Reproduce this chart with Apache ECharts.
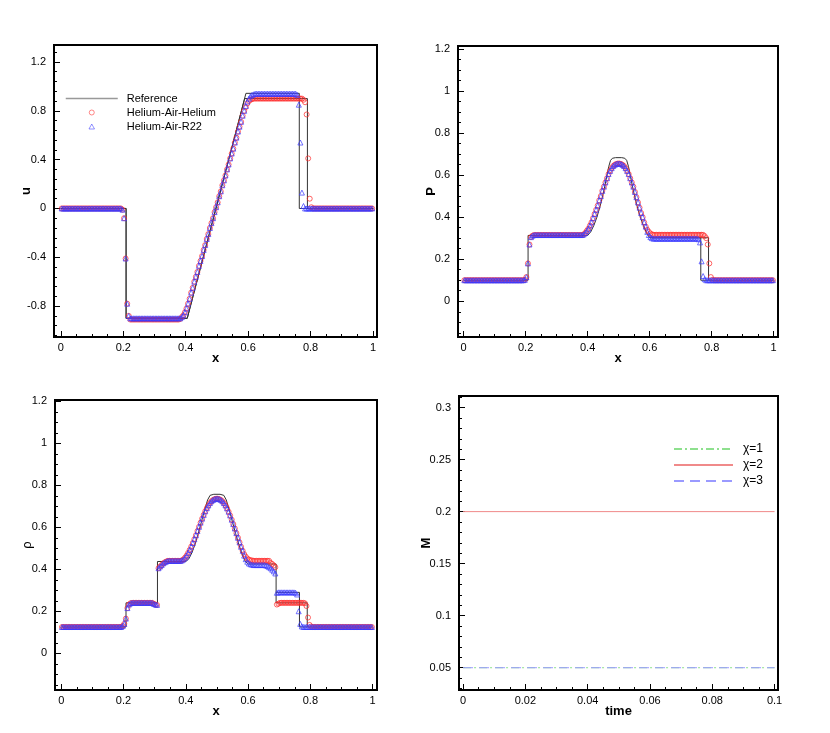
<!DOCTYPE html>
<html>
<head>
<meta charset="utf-8">
<script src="https://cdn.jsdelivr.net/npm/echarts@6/dist/echarts.min.js"></script>
<style>
  html, body { margin: 0; padding: 0; background: #fff; }
  #main { width: 830px; height: 733px; }
</style>
</head>
<body>
<div id="main"></div>
<script>
// cell centres of the 200-cell mesh
const xs = [
  0.0025,0.0075,0.0125,0.0175,0.0225,0.0275,0.0325,0.0375,0.0425,0.0475,
  0.0525,0.0575,0.0625,0.0675,0.0725,0.0775,0.0825,0.0875,0.0925,0.0975,
  0.1025,0.1075,0.1125,0.1175,0.1225,0.1275,0.1325,0.1375,0.1425,0.1475,
  0.1525,0.1575,0.1625,0.1675,0.1725,0.1775,0.1825,0.1875,0.1925,0.1975,
  0.2025,0.2075,0.2125,0.2175,0.2225,0.2275,0.2325,0.2375,0.2425,0.2475,
  0.2525,0.2575,0.2625,0.2675,0.2725,0.2775,0.2825,0.2875,0.2925,0.2975,
  0.3025,0.3075,0.3125,0.3175,0.3225,0.3275,0.3325,0.3375,0.3425,0.3475,
  0.3525,0.3575,0.3625,0.3675,0.3725,0.3775,0.3825,0.3875,0.3925,0.3975,
  0.4025,0.4075,0.4125,0.4175,0.4225,0.4275,0.4325,0.4375,0.4425,0.4475,
  0.4525,0.4575,0.4625,0.4675,0.4725,0.4775,0.4825,0.4875,0.4925,0.4975,
  0.5025,0.5075,0.5125,0.5175,0.5225,0.5275,0.5325,0.5375,0.5425,0.5475,
  0.5525,0.5575,0.5625,0.5675,0.5725,0.5775,0.5825,0.5875,0.5925,0.5975,
  0.6025,0.6075,0.6125,0.6175,0.6225,0.6275,0.6325,0.6375,0.6425,0.6475,
  0.6525,0.6575,0.6625,0.6675,0.6725,0.6775,0.6825,0.6875,0.6925,0.6975,
  0.7025,0.7075,0.7125,0.7175,0.7225,0.7275,0.7325,0.7375,0.7425,0.7475,
  0.7525,0.7575,0.7625,0.7675,0.7725,0.7775,0.7825,0.7875,0.7925,0.7975,
  0.8025,0.8075,0.8125,0.8175,0.8225,0.8275,0.8325,0.8375,0.8425,0.8475,
  0.8525,0.8575,0.8625,0.8675,0.8725,0.8775,0.8825,0.8875,0.8925,0.8975,
  0.9025,0.9075,0.9125,0.9175,0.9225,0.9275,0.9325,0.9375,0.9425,0.9475,
  0.9525,0.9575,0.9625,0.9675,0.9725,0.9775,0.9825,0.9875,0.9925,0.9975
];

// velocity u
const uHe = [
  0,0,0,0,0,0,0,0,0,0, 0,0,0,0,0,0,0,0,0,0, 0,0,0,0,0,0,0,0,0,0,
  0,0,0,0,0,0,0,0,0,-0.01,
  -0.08,-0.41,-0.78,-0.88,-0.91,-0.91,-0.91,-0.91,-0.91,-0.91,
  -0.91,-0.91,-0.91,-0.91,-0.91,-0.91,-0.91,-0.91,-0.91,-0.91,
  -0.91,-0.91,-0.91,-0.91,-0.91,-0.91,-0.91,-0.91,-0.91,-0.91,
  -0.91,-0.91,-0.91,-0.91,-0.91,-0.91,-0.905,-0.89,-0.875,-0.85,
  -0.82,-0.78,-0.74,-0.69,-0.65,-0.6,-0.56,-0.52,-0.47,-0.43,
  -0.39,-0.34,-0.3,-0.25,-0.21,-0.16,-0.12,-0.08,-0.03,0.01,
  0.05,0.1,0.14,0.19,0.23,0.27,0.32,0.36,0.41,0.45,
  0.49,0.54,0.58,0.63,0.67,0.71,0.76,0.8,0.83,0.86,
  0.88,0.89,0.895,0.9,0.9,0.9,0.9,0.9,0.9,0.9,
  0.9,0.9,0.9,0.9,0.9,0.9,0.9,0.9,0.9,0.9,
  0.9,0.9,0.9,0.9,0.9,0.9,0.9,0.9,0.9,0.9,
  0.9,0.9,0.9,0.9,0.9,0.89,0.87,0.77,0.41,0.08,
  0.01,0,0,0,0,0,0,0,0,0, 0,0,0,0,0,0,0,0,0,0,
  0,0,0,0,0,0,0,0,0,0, 0,0,0,0,0,0,0,0,0,0
];
const uR22 = [
  0,0,0,0,0,0,0,0,0,0, 0,0,0,0,0,0,0,0,0,0, 0,0,0,0,0,0,0,0,0,0,
  0,0,0,0,0,0,0,0,0,-0.01,
  -0.08,-0.41,-0.78,-0.88,-0.9,-0.9,-0.9,-0.9,-0.9,-0.9,
  -0.9,-0.9,-0.9,-0.9,-0.9,-0.9,-0.9,-0.9,-0.9,-0.9,
  -0.9,-0.9,-0.9,-0.9,-0.9,-0.9,-0.9,-0.9,-0.9,-0.9,
  -0.9,-0.9,-0.9,-0.9,-0.9,-0.9,-0.9,-0.89,-0.875,-0.85,
  -0.82,-0.78,-0.74,-0.69,-0.65,-0.6,-0.56,-0.52,-0.47,-0.43,
  -0.39,-0.34,-0.3,-0.25,-0.21,-0.16,-0.12,-0.08,-0.03,0.01,
  0.05,0.1,0.14,0.19,0.23,0.27,0.32,0.36,0.41,0.45,
  0.49,0.54,0.58,0.63,0.67,0.71,0.76,0.8,0.84,0.875,
  0.9,0.92,0.93,0.935,0.94,0.94,0.94,0.94,0.94,0.94,
  0.94,0.94,0.94,0.94,0.94,0.94,0.94,0.94,0.94,0.94,
  0.94,0.94,0.94,0.94,0.94,0.94,0.94,0.94,0.94,0.94,
  0.94,0.93,0.85,0.54,0.13,0.02,0,0,0,0,
  0,0,0,0,0,0,0,0,0,0, 0,0,0,0,0,0,0,0,0,0,
  0,0,0,0,0,0,0,0,0,0, 0,0,0,0,0,0,0,0,0,0
];

// pressure P
const pHe = [
  0.1,0.1,0.1,0.1,0.1,0.1,0.1,0.1,0.1,0.1, 0.1,0.1,0.1,0.1,0.1,0.1,0.1,0.1,0.1,0.1,
  0.1,0.1,0.1,0.1,0.1,0.1,0.1,0.1,0.1,0.1, 0.1,0.1,0.1,0.1,0.1,0.1,0.1,0.1,0.1,0.102,
  0.115,0.18,0.27,0.305,0.312,0.315,0.315,0.315,0.315,0.315,
  0.315,0.315,0.315,0.315,0.315,0.315,0.315,0.315,0.315,0.315,
  0.315,0.315,0.315,0.315,0.315,0.315,0.315,0.315,0.315,0.315,
  0.315,0.315,0.315,0.315,0.315,0.315,0.315,0.318,0.325,0.335,
  0.345,0.36,0.375,0.395,0.415,0.435,0.455,0.48,0.5,0.525,
  0.545,0.565,0.585,0.605,0.62,0.633,0.643,0.649,0.653,0.655,
  0.655,0.653,0.649,0.643,0.633,0.62,0.605,0.585,0.565,0.545,
  0.52,0.495,0.47,0.445,0.42,0.4,0.375,0.355,0.34,0.33,
  0.322,0.318,0.316,0.316,0.316,0.316,0.316,0.316,0.316,0.316,
  0.316,0.316,0.316,0.316,0.316,0.316,0.316,0.316,0.316,0.316,
  0.316,0.316,0.316,0.316,0.316,0.316,0.316,0.316,0.316,0.316,
  0.316,0.316,0.316,0.316,0.316,0.31,0.3,0.27,0.18,0.115,
  0.102,0.1,0.1,0.1,0.1,0.1,0.1,0.1,0.1,0.1, 0.1,0.1,0.1,0.1,0.1,0.1,0.1,0.1,0.1,0.1,
  0.1,0.1,0.1,0.1,0.1,0.1,0.1,0.1,0.1,0.1, 0.1,0.1,0.1,0.1,0.1,0.1,0.1,0.1,0.1,0.1
];
const pR22 = [
  0.1,0.1,0.1,0.1,0.1,0.1,0.1,0.1,0.1,0.1, 0.1,0.1,0.1,0.1,0.1,0.1,0.1,0.1,0.1,0.1,
  0.1,0.1,0.1,0.1,0.1,0.1,0.1,0.1,0.1,0.1, 0.1,0.1,0.1,0.1,0.1,0.1,0.1,0.1,0.1,0.102,
  0.115,0.18,0.27,0.305,0.312,0.315,0.315,0.315,0.315,0.315,
  0.315,0.315,0.315,0.315,0.315,0.315,0.315,0.315,0.315,0.315,
  0.315,0.315,0.315,0.315,0.315,0.315,0.315,0.315,0.315,0.315,
  0.315,0.315,0.315,0.315,0.315,0.315,0.315,0.318,0.325,0.335,
  0.345,0.36,0.375,0.395,0.415,0.435,0.455,0.48,0.5,0.525,
  0.545,0.565,0.585,0.605,0.62,0.633,0.643,0.649,0.653,0.655,
  0.655,0.653,0.649,0.643,0.633,0.62,0.605,0.585,0.565,0.545,
  0.52,0.495,0.47,0.445,0.42,0.4,0.375,0.355,0.33,0.315,
  0.305,0.3,0.298,0.298,0.298,0.298,0.298,0.298,0.298,0.298,
  0.298,0.298,0.298,0.298,0.298,0.298,0.298,0.298,0.298,0.298,
  0.298,0.298,0.298,0.298,0.298,0.298,0.298,0.298,0.298,0.298,
  0.298,0.295,0.28,0.19,0.12,0.105,0.1,0.1,0.1,0.1,
  0.1,0.1,0.1,0.1,0.1,0.1,0.1,0.1,0.1,0.1, 0.1,0.1,0.1,0.1,0.1,0.1,0.1,0.1,0.1,0.1,
  0.1,0.1,0.1,0.1,0.1,0.1,0.1,0.1,0.1,0.1, 0.1,0.1,0.1,0.1,0.1,0.1,0.1,0.1,0.1,0.1
];

// density rho
const rHe = [
  0.125,0.125,0.125,0.125,0.125,0.125,0.125,0.125,0.125,0.125,
  0.125,0.125,0.125,0.125,0.125,0.125,0.125,0.125,0.125,0.125,
  0.125,0.125,0.125,0.125,0.125,0.125,0.125,0.125,0.125,0.125,
  0.125,0.125,0.125,0.125,0.125,0.125,0.125,0.125,0.125,0.13,
  0.14,0.165,0.215,0.232,0.238,0.24,0.24,0.24,0.24,0.24,
  0.24,0.24,0.24,0.24,0.24,0.24,0.24,0.24,0.24,0.235,
  0.232,0.23,0.405,0.413,0.42,0.428,0.433,0.437,0.44,0.44,
  0.44,0.44,0.44,0.44,0.44,0.44,0.44,0.442,0.447,0.455,
  0.465,0.478,0.492,0.508,0.525,0.543,0.562,0.582,0.602,0.622,
  0.641,0.659,0.676,0.691,0.704,0.715,0.724,0.73,0.734,0.736,
  0.736,0.734,0.73,0.724,0.715,0.704,0.69,0.674,0.656,0.636,
  0.615,0.594,0.572,0.55,0.528,0.507,0.488,0.472,0.46,0.451,
  0.446,0.443,0.442,0.44,0.44,0.44,0.44,0.44,0.44,0.44,
  0.44,0.44,0.44,0.44,0.43,0.425,0.418,0.41,0.232,0.236,
  0.24,0.24,0.24,0.24,0.24,0.24,0.24,0.24,0.24,0.24,
  0.24,0.24,0.24,0.24,0.24,0.24,0.238,0.225,0.17,0.135,
  0.127,0.125,0.125,0.125,0.125,0.125,0.125,0.125,0.125,0.125,
  0.125,0.125,0.125,0.125,0.125,0.125,0.125,0.125,0.125,0.125,
  0.125,0.125,0.125,0.125,0.125,0.125,0.125,0.125,0.125,0.125,
  0.125,0.125,0.125,0.125,0.125,0.125,0.125,0.125,0.125,0.125
];
const rR22 = [
  0.125,0.125,0.125,0.125,0.125,0.125,0.125,0.125,0.125,0.125,
  0.125,0.125,0.125,0.125,0.125,0.125,0.125,0.125,0.125,0.125,
  0.125,0.125,0.125,0.125,0.125,0.125,0.125,0.125,0.125,0.125,
  0.125,0.125,0.125,0.125,0.125,0.125,0.125,0.125,0.125,0.13,
  0.14,0.165,0.215,0.232,0.238,0.24,0.24,0.24,0.24,0.24,
  0.24,0.24,0.24,0.24,0.24,0.24,0.24,0.24,0.24,0.235,
  0.232,0.23,0.405,0.413,0.42,0.428,0.433,0.437,0.44,0.44,
  0.44,0.44,0.44,0.44,0.44,0.44,0.44,0.442,0.447,0.455,
  0.465,0.478,0.492,0.508,0.525,0.543,0.562,0.582,0.602,0.622,
  0.641,0.659,0.676,0.691,0.704,0.715,0.724,0.73,0.734,0.736,
  0.736,0.734,0.73,0.724,0.715,0.704,0.69,0.674,0.656,0.636,
  0.615,0.594,0.572,0.55,0.528,0.507,0.488,0.465,0.448,0.436,
  0.428,0.424,0.422,0.42,0.42,0.42,0.42,0.42,0.42,0.42,
  0.42,0.418,0.415,0.41,0.405,0.398,0.39,0.38,0.288,0.29,
  0.29,0.29,0.29,0.29,0.29,0.29,0.29,0.29,0.29,0.29,
  0.288,0.28,0.2,0.14,0.128,0.125,0.125,0.125,0.125,0.125,
  0.125,0.125,0.125,0.125,0.125,0.125,0.125,0.125,0.125,0.125,
  0.125,0.125,0.125,0.125,0.125,0.125,0.125,0.125,0.125,0.125,
  0.125,0.125,0.125,0.125,0.125,0.125,0.125,0.125,0.125,0.125,
  0.125,0.125,0.125,0.125,0.125,0.125,0.125,0.125,0.125,0.125
];

// exact (reference) solutions, polyline vertices [x, value]
const refUHe  = [[0,0],[0.209,0],[0.209,-0.9],[0.405,-0.9],[0.589,0.9],[0.79,0.9],[0.79,0],[1,0]];
const refUR22 = [[0,0],[0.209,0],[0.209,-0.9],[0.405,-0.9],[0.593,0.943],[0.764,0.943],[0.764,0],[1,0]];
const refPHe  = [[0,0.1],[0.208,0.1],[0.208,0.313],[0.4,0.313],[0.41,0.33],[0.42,0.36],[0.43,0.4],[0.44,0.45],[0.45,0.51],
  [0.46,0.58],[0.468,0.64],[0.474,0.67],[0.48,0.68],[0.49,0.683],[0.51,0.683],[0.52,0.68],[0.526,0.67],[0.532,0.64],
  [0.54,0.58],[0.55,0.51],[0.56,0.45],[0.57,0.4],[0.58,0.36],[0.59,0.325],[0.6,0.302],[0.79,0.302],[0.79,0.1],[1,0.1]];
const refPR22 = [[0.6,0.302],[0.765,0.302],[0.765,0.1],[0.79,0.1]];
const refRHe  = [[0,0.125],[0.208,0.125],[0.208,0.24],[0.309,0.24],[0.309,0.437],[0.4,0.437],[0.41,0.45],[0.42,0.48],
  [0.43,0.52],[0.44,0.57],[0.45,0.625],[0.46,0.68],[0.47,0.73],[0.478,0.752],[0.49,0.757],[0.51,0.757],[0.522,0.752],
  [0.53,0.73],[0.54,0.68],[0.55,0.625],[0.56,0.57],[0.57,0.52],[0.58,0.475],[0.59,0.44],[0.6,0.425],[0.69,0.425],
  [0.69,0.24],[0.79,0.24],[0.79,0.125],[1,0.125]];
const refRR22 = [[0.69,0.29],[0.765,0.29],[0.765,0.125],[0.79,0.125]];

// Mach number history
const tVals = [0, 0.1];
const mChi1 = [0.05, 0.05];
const mChi2 = [0.2, 0.2];
const mChi3 = [0.05, 0.05];

// tick labels
const xTicks = [0, 0.2, 0.4, 0.6, 0.8, 1];
const uTicks = [-0.8, -0.4, 0, 0.4, 0.8, 1.2];
const pTicks = [0, 0.2, 0.4, 0.6, 0.8, 1, 1.2];
const tTicks = [0, 0.02, 0.04, 0.06, 0.08, 0.1];
const mTicks = [0.05, 0.1, 0.15, 0.2, 0.25, 0.3];

const FONT = 'Liberation Sans';

function steps(a, b, step) {
  let out = [];
  let n = Math.round((b - a) / step);
  for (let k = 0; k <= n; k++) out.push(+(a + k * step).toFixed(5));
  return out;
}

function pairs(vals) {
  return xs.map(function (x, i) { return [x, vals[i]]; });
}

let xAxes = [];
let yAxes = [];

// major axis with labels + a second one carrying only the minor ticks
function addAxes(gi, xr, yr, xMaj, xMin, yMaj, yMin, xName, yName, yBold, yGap) {
  let lbl = { fontSize: 11, color: '#000', fontFamily: FONT,
    formatter: function (v) { return String(+(+v).toFixed(4)); } };
  let noLine = { show: false, onZero: false };
  xAxes.push({
    type: 'value', gridIndex: gi, min: xr[0], max: xr[1], position: 'bottom',
    axisLine: noLine, splitLine: { show: false },
    axisTick: { inside: true, length: 6, customValues: xMaj, lineStyle: { color: '#000' } },
    axisLabel: Object.assign({ customValues: xMaj, margin: 5 }, lbl),
    name: xName, nameLocation: 'middle', nameGap: 15, nameMoveOverlap: false,
    nameTextStyle: { fontWeight: 'bold', fontSize: 13, color: '#000', fontFamily: FONT }
  });
  xAxes.push({
    type: 'value', gridIndex: gi, min: xr[0], max: xr[1], position: 'bottom',
    axisLine: noLine, splitLine: { show: false }, axisLabel: { show: false },
    axisTick: { inside: true, length: 3, customValues: xMin, lineStyle: { color: '#000' } }
  });
  yAxes.push({
    type: 'value', gridIndex: gi, min: yr[0], max: yr[1], position: 'left',
    axisLine: noLine, splitLine: { show: false },
    axisTick: { inside: true, length: 6, customValues: yMaj, lineStyle: { color: '#000' } },
    axisLabel: Object.assign({ customValues: yMaj, margin: 8 }, lbl),
    name: yName, nameLocation: 'middle', nameGap: yGap, nameRotate: 90, nameMoveOverlap: false,
    nameTextStyle: { fontWeight: yBold ? 'bold' : 'normal', fontSize: 13, color: '#000', fontFamily: FONT }
  });
  yAxes.push({
    type: 'value', gridIndex: gi, min: yr[0], max: yr[1], position: 'left',
    axisLine: noLine, splitLine: { show: false }, axisLabel: { show: false },
    axisTick: { inside: true, length: 3, customValues: yMin, lineStyle: { color: '#000' } }
  });
}

const xMinor = steps(0, 1, 0.05);
addAxes(0, [-0.022, 1.013], [-1.053, 1.339], xTicks, xMinor, uTicks, steps(-1.04, 1.28, 0.08), 'x', 'u', true, 21);
addAxes(1, [-0.018, 1.014], [-0.17, 1.214], xTicks, xMinor, pTicks, steps(-0.15, 1.2, 0.05), 'x', 'P', true, 20);
addAxes(2, [-0.02, 1.014], [-0.175, 1.206], xTicks, xMinor, pTicks, steps(-0.15, 1.2, 0.05), 'x', 'ρ', false, 21);
addAxes(3, [-0.0013, 0.1011], [0.0286, 0.3111], tTicks, steps(0, 0.1, 0.005), mTicks, steps(0.03, 0.31, 0.01), 'time', 'M', true, 26);

function refLine(gi, pts) {
  return { type: 'line', name: 'Reference', xAxisIndex: gi * 2, yAxisIndex: gi * 2, data: pts,
    symbol: 'none', lineStyle: { color: '#333', width: 1 }, itemStyle: { color: '#999' }, z: 2 };
}
function marks(gi, name, vals) {
  let red = name === 'Helium-Air-Helium';
  return { type: 'scatter', name: name, xAxisIndex: gi * 2, yAxisIndex: gi * 2, data: pairs(vals),
    symbol: red ? 'circle' : 'triangle', symbolSize: 5,
    itemStyle: { color: 'rgba(0,0,0,0)', borderColor: red ? '#ff2a2a' : '#3a3aff', borderWidth: 0.9 }, z: 3 };
}
function mLine(name, vals, color, type) {
  return { type: 'line', name: name, xAxisIndex: 6, yAxisIndex: 6,
    data: tVals.map(function (t, i) { return [t, vals[i]]; }),
    symbol: 'none', lineStyle: { color: color, width: 1, type: type }, itemStyle: { color: color } };
}

let myChart = echarts.init(document.getElementById('main'), null, { renderer: 'canvas' });

let gridBox = { show: true, borderColor: '#000', borderWidth: 2, backgroundColor: '#fff' };
let hideSym = { opacity: 0 };

let chartOption = {
  animation: false,
  backgroundColor: '#fff',
  grid: [
    Object.assign({ left: 54, top: 45, width: 323, height: 292 }, gridBox),
    Object.assign({ left: 458, top: 46, width: 320, height: 291 }, gridBox),
    Object.assign({ left: 55, top: 400, width: 322, height: 290 }, gridBox),
    Object.assign({ left: 459, top: 396, width: 319, height: 294 }, gridBox)
  ],
  xAxis: xAxes,
  yAxis: yAxes,
  legend: [
    {
      data: [
        { name: 'Reference', itemStyle: hideSym, lineStyle: { color: '#999', width: 1.5 } },
        { name: 'Helium-Air-Helium', icon: 'circle', itemStyle: { borderWidth: 0.7 } },
        { name: 'Helium-Air-R22', icon: 'path://M5,0L10,9L0,9Z', itemStyle: { borderWidth: 0.7 } }
      ],
      left: 65, top: 93, padding: 0, orient: 'vertical', itemWidth: 52, itemHeight: 5, itemGap: 3,
      textStyle: { fontSize: 11, color: '#000', fontFamily: FONT, padding: [0, 0, 0, 4] },
      selectedMode: false
    },
    {
      data: [
        { name: 'χ=1', itemStyle: hideSym },
        { name: 'χ=2', itemStyle: hideSym },
        { name: 'χ=3', itemStyle: hideSym }
      ],
      left: 673, top: 443, padding: 0, orient: 'vertical', itemWidth: 59, itemHeight: 8, itemGap: 4,
      textStyle: { fontSize: 12, color: '#000', fontFamily: FONT, padding: [0, 0, 0, 5] },
      selectedMode: false
    }
  ],
  series: [
    refLine(0, refUHe), refLine(0, refUR22),
    marks(0, 'Helium-Air-Helium', uHe), marks(0, 'Helium-Air-R22', uR22),
    refLine(1, refPHe), refLine(1, refPR22),
    marks(1, 'Helium-Air-Helium', pHe), marks(1, 'Helium-Air-R22', pR22),
    refLine(2, refRHe), refLine(2, refRR22),
    marks(2, 'Helium-Air-Helium', rHe), marks(2, 'Helium-Air-R22', rR22),
    mLine('χ=1', mChi1, '#8ee08e', [8, 3, 2, 3]),
    mLine('χ=2', mChi2, '#f08a8a', 'solid'),
    mLine('χ=3', mChi3, '#9a9aff', [10, 6])
  ]
};

chartOption && myChart.setOption(chartOption);
</script>
</body>
</html>
